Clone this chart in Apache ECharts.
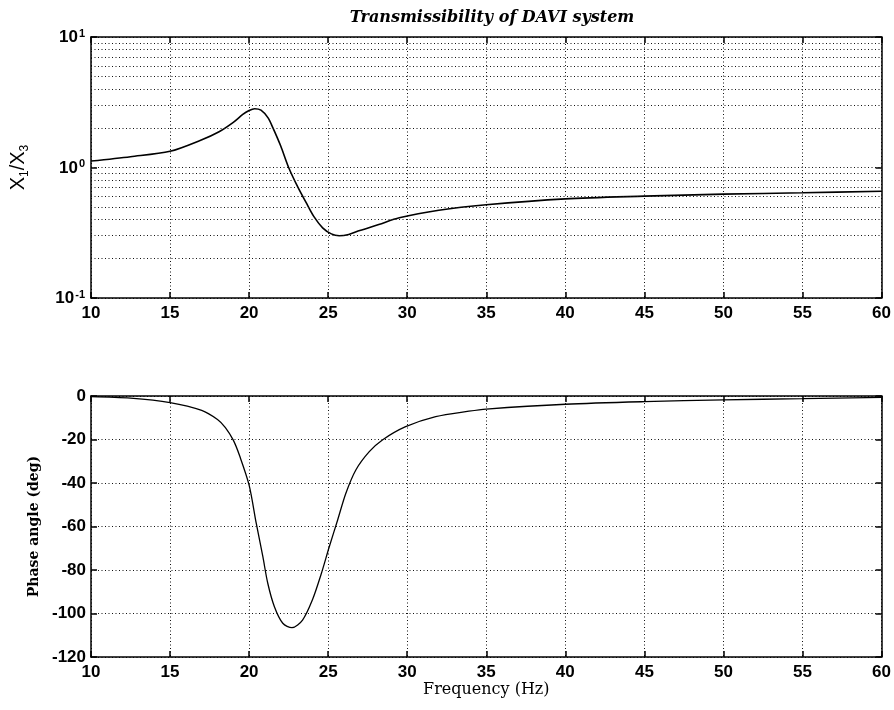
<!DOCTYPE html>
<html>
<head>
<meta charset="utf-8">
<script src="https://cdn.jsdelivr.net/npm/echarts@6/dist/echarts.min.js"></script>
<style>html,body{margin:0;padding:0;background:#fff}#c{width:894px;height:710px}</style>
</head>
<body>
<div id="c"></div>
<script>
// Transmissibility magnitude X1/X3 (top plot)
var magFreq = [10, 12.5, 15, 16.9, 18.1, 19.0, 19.6, 20.0, 20.35, 20.75, 21.2, 21.5, 22.0, 22.5, 23.1, 23.6, 24.1, 24.65, 25.2, 25.7, 26.3, 27.0, 28.2, 29.5, 32, 35, 40, 45, 50, 55, 60];
var magValues = [1.12, 1.21, 1.33, 1.61, 1.88, 2.22, 2.55, 2.73, 2.82, 2.75, 2.40, 2.02, 1.46, 1.0, 0.70, 0.54, 0.42, 0.345, 0.31, 0.30, 0.307, 0.329, 0.366, 0.412, 0.47, 0.518, 0.575, 0.603, 0.625, 0.64, 0.658];
// Phase angle (bottom plot)
var phaseFreq = [10, 12.5, 15, 17, 18, 18.5, 19, 19.4, 20, 20.45, 20.87, 21.18, 21.6, 22.13, 22.71, 23.38, 24.0, 24.54, 25.07, 25.6, 26.12, 26.75, 27.6, 28.43, 29.9, 31.8, 33.9, 35, 40, 45, 50, 55, 60];
var phaseValues = [-0.3, -1, -3, -6.6, -10.8, -14.5, -20.3, -27.5, -41, -58.5, -73.9, -86.1, -96.9, -104.5, -106.5, -103, -93.8, -82.3, -69.3, -57, -44.7, -34, -25.6, -20.2, -14.1, -9.5, -7.0, -6.0, -3.8, -2.6, -1.8, -1.2, -0.6];
// Axis ticks / grid values
var freqMin = 10, freqMax = 60, freqStep = 5;
var magMin = 0.1, magMax = 10;
var magMinorGrid = [0.2, 0.3, 0.4, 0.5, 0.6, 0.7, 0.8, 0.9, 2, 3, 4, 5, 6, 7, 8, 9];
var phaseMin = -120, phaseMax = 0, phaseStep = 20;

var chart = echarts.init(document.getElementById('c'), null, {renderer: 'canvas'});
var sans = 'Liberation Sans, Arial, sans-serif';
var serif = 'DejaVu Serif, serif';
var dot = {type: [1, 2.5], color: '#111', width: 1};
var tickStyle = {show: true, inside: true, length: 6, lineStyle: {color: '#000', width: 1.5}};
var lblStyle = {fontFamily: sans, fontWeight: 'bold', fontSize: 17, color: '#000'};

function xAx(gridIndex, pos, main, extra) {
  var a = {
    type: 'value', gridIndex: gridIndex, position: pos, min: freqMin, max: freqMax, interval: freqStep,
    axisLine: {show: true, onZero: false, lineStyle: {color: '#000', width: 1.5}},
    axisTick: tickStyle,
    axisLabel: main ? Object.assign({show: true, margin: 7}, lblStyle) : {show: false},
    splitLine: main ? {show: true, lineStyle: dot} : {show: false}
  };
  return Object.assign(a, extra || {});
}

var option = {
  animation: false,
  backgroundColor: '#fff',
  title: {
    text: 'Transmissibility of DAVI system', left: 487, top: 5, textAlign: 'center',
    textStyle: {fontFamily: serif, fontStyle: 'italic', fontWeight: 'bold', fontSize: 16, color: '#000'}
  },
  grid: [
    {left: 91, right: 10, top: 37, height: 261, show: false},
    {left: 91, right: 10, top: 396, height: 261, show: false}
  ],
  xAxis: [
    xAx(0, 'bottom', true),
    xAx(0, 'top', false),
    xAx(1, 'bottom', true, {name: 'Frequency (Hz)', nameLocation: 'middle', nameGap: 25,
      nameTextStyle: {fontFamily: serif, fontSize: 16, color: '#000'}}),
    xAx(1, 'top', false)
  ],
  yAxis: [
    {
      type: 'log', logBase: 10, gridIndex: 0, position: 'left', min: magMin, max: magMax,
      axisLine: {show: true, lineStyle: {color: '#000', width: 1.5}},
      axisTick: tickStyle,
      axisLabel: {
        show: true, margin: 6,
        formatter: function (v) { return '{b|10}{s|' + Math.round(Math.log10(v)) + '}'; },
        rich: {
          b: {fontFamily: sans, fontWeight: 'bold', fontSize: 17, color: '#000', lineHeight: 18, verticalAlign: 'bottom'},
          s: {fontFamily: sans, fontWeight: 'bold', fontSize: 11, color: '#000', lineHeight: 11, verticalAlign: 'top', padding: [0, 0, 0, 1]}
        }
      },
      splitLine: {show: true, lineStyle: dot},
      name: '{x|X}{sub|1}{x|/X}{sub|3}', nameLocation: 'middle', nameGap: 60, nameRotate: 90,
      nameTextStyle: {
        rich: {
          x: {fontFamily: sans, fontSize: 20, color: '#000', lineHeight: 23, verticalAlign: 'top'},
          sub: {fontFamily: sans, fontSize: 12, color: '#000', lineHeight: 12, verticalAlign: 'bottom'}
        }
      }
    },
    {
      type: 'log', logBase: 10, gridIndex: 0, position: 'right', min: magMin, max: magMax,
      axisLine: {show: true, lineStyle: {color: '#000', width: 1.5}},
      axisTick: tickStyle, axisLabel: {show: false}, splitLine: {show: false}
    },
    {
      type: 'value', gridIndex: 1, position: 'left', min: phaseMin, max: phaseMax, interval: phaseStep,
      axisLine: {show: true, onZero: false, lineStyle: {color: '#000', width: 1.5}},
      axisTick: tickStyle,
      axisLabel: Object.assign({show: true, margin: 5}, lblStyle),
      splitLine: {show: true, lineStyle: dot},
      name: 'Phase angle (deg)', nameLocation: 'middle', nameGap: 49,
      nameTextStyle: {fontFamily: serif, fontWeight: 'bold', fontSize: 14, color: '#000'}
    },
    {
      type: 'value', gridIndex: 1, position: 'right', min: phaseMin, max: phaseMax, interval: phaseStep,
      axisLine: {show: true, onZero: false, lineStyle: {color: '#000', width: 1.5}},
      axisTick: tickStyle, axisLabel: {show: false}, splitLine: {show: false}
    }
  ],
  series: [
    {
      type: 'line', xAxisIndex: 0, yAxisIndex: 0,
      data: magFreq.map(function (f, i) { return [f, magValues[i]]; }),
      showSymbol: false, smooth: 0.3,
      lineStyle: {color: '#000', width: 1.6},
      markLine: {
        silent: true, symbol: ['none', 'none'], label: {show: false},
        lineStyle: dot, animation: false,
        data: magMinorGrid.map(function (v) { return {yAxis: v}; })
      }
    },
    {
      type: 'line', xAxisIndex: 2, yAxisIndex: 2,
      data: phaseFreq.map(function (f, i) { return [f, phaseValues[i]]; }),
      showSymbol: false, smooth: 0.3,
      lineStyle: {color: '#000', width: 1.3}
    }
  ]
};
chart.setOption(option);
</script>
</body>
</html>
